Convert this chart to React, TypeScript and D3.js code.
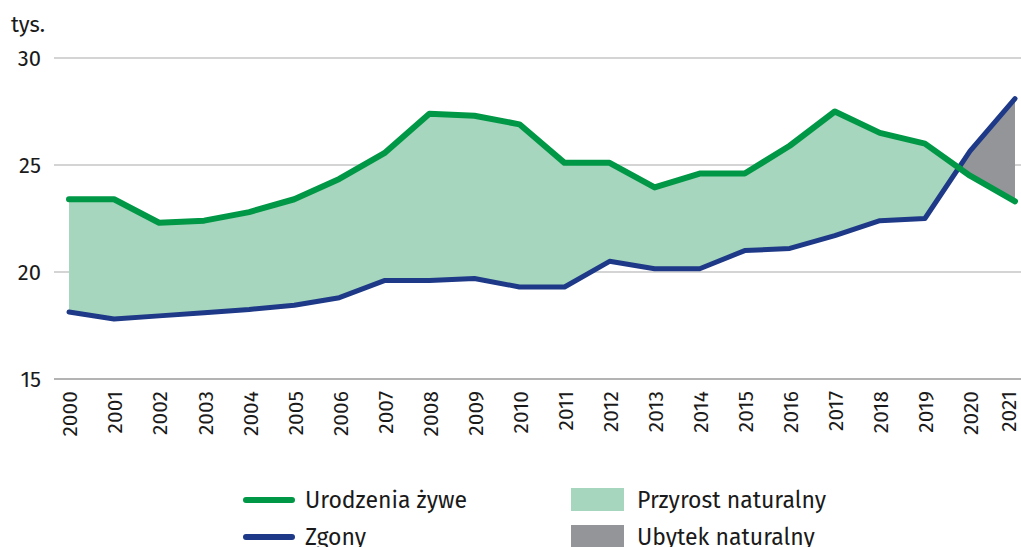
import React, { useEffect, useRef } from 'react';
import * as d3 from 'd3';

const years = [
  '2000', '2001', '2002', '2003', '2004', '2005', '2006', '2007', '2008', '2009', '2010',
  '2011', '2012', '2013', '2014', '2015', '2016', '2017', '2018', '2019', '2020', '2021',
];
// thousands
const births = [
  23.4, 23.4, 22.3, 22.4, 22.8, 23.4, 24.35, 25.55, 27.4, 27.3, 26.9,
  25.1, 25.1, 23.95, 24.6, 24.6, 25.9, 27.5, 26.5, 26.0, 24.5, 23.3,
];
const deaths = [
  18.13, 17.8, 17.95, 18.1, 18.25, 18.45, 18.8, 19.6, 19.6, 19.7, 19.3,
  19.3, 20.5, 20.15, 20.15, 21.0, 21.1, 21.7, 22.4, 22.5, 25.65, 28.1,
];
const yTicks = [15, 20, 25, 30];

const W = 1021;
const H = 547;
const FONT = '"Fira Sans", "Noto Sans", sans-serif';
const GREEN = '#009846';
const BLUE = '#1d3987';
const FILL_POS = '#a6d6bd';
const FILL_NEG = '#939598';

const App: React.FC = () => {
  const svgRef = useRef<SVGSVGElement | null>(null);

  useEffect(() => {
    if (!svgRef.current) return;
    const svg = d3.select(svgRef.current);
    svg.selectAll('*').remove();

    const x = d3.scalePoint<string>().domain(years).range([69, 1015]);
    const y = d3.scaleLinear().domain([15, 30]).range([379, 58]);
    const gridLeft = 54;
    const gridRight = W;

    const rows = years.map((yr, i) => ({ yr, b: births[i], d: deaths[i] }));
    const xs = (r: { yr: string }) => x(r.yr) as number;

    // gridlines
    svg.append('g')
      .selectAll('line')
      .data(yTicks)
      .enter()
      .append('line')
      .attr('x1', gridLeft)
      .attr('x2', gridRight)
      .attr('y1', d => y(d))
      .attr('y2', d => y(d))
      .attr('stroke', d => (d === 15 ? '#9a9a9a' : '#c6c6c6'))
      .attr('stroke-width', 1.5);

    // y tick labels
    svg.append('g')
      .selectAll('text')
      .data(yTicks)
      .enter()
      .append('text')
      .attr('x', 41)
      .attr('y', d => y(d))
      .attr('dy', '0.35em')
      .attr('text-anchor', 'end')
      .attr('font-family', FONT)
      .attr('font-size', 22)
      .attr('fill', '#1a1a1a')
      .text(d => d);

    svg.append('text')
      .attr('x', 11)
      .attr('y', 32)
      .attr('font-family', FONT)
      .attr('font-size', 22)
      .attr('fill', '#1a1a1a')
      .text('tys.');

    // difference areas via clip paths
    const defs = svg.append('defs');
    defs.append('clipPath').attr('id', 'clip-above-deaths')
      .append('path')
      .datum(rows)
      .attr('d', d3.area<any>().x(xs).y0(0).y1(r => y(r.d)));
    defs.append('clipPath').attr('id', 'clip-below-deaths')
      .append('path')
      .datum(rows)
      .attr('d', d3.area<any>().x(xs).y0(H).y1(r => y(r.d)));

    svg.append('path')
      .datum(rows)
      .attr('clip-path', 'url(#clip-above-deaths)')
      .attr('fill', FILL_POS)
      .attr('d', d3.area<any>().x(xs).y0(H).y1(r => y(r.b)));
    svg.append('path')
      .datum(rows)
      .attr('clip-path', 'url(#clip-below-deaths)')
      .attr('fill', FILL_NEG)
      .attr('d', d3.area<any>().x(xs).y0(0).y1(r => y(r.b)));

    // lines
    const lineB = d3.line<any>().x(xs).y(r => y(r.b));
    const lineD = d3.line<any>().x(xs).y(r => y(r.d));
    svg.append('path').datum(rows)
      .attr('d', lineD)
      .attr('fill', 'none')
      .attr('stroke', BLUE)
      .attr('stroke-width', 5)
      .attr('stroke-linejoin', 'round')
      .attr('stroke-linecap', 'round');
    svg.append('path').datum(rows)
      .attr('d', lineB)
      .attr('fill', 'none')
      .attr('stroke', GREEN)
      .attr('stroke-width', 6)
      .attr('stroke-linejoin', 'round')
      .attr('stroke-linecap', 'round');

    // x labels, rotated (last one nudged in so it stays inside the frame)
    svg.append('g')
      .selectAll('text')
      .data(years)
      .enter()
      .append('text')
      .attr('transform', d => `translate(${Math.min((x(d) as number) + 1, 1009)},391) rotate(-90)`)
      .attr('text-anchor', 'end')
      .attr('dy', '0.35em')
      .attr('font-family', FONT)
      .attr('font-size', 21)
      .attr('fill', '#1a1a1a')
      .text(d => d);

    // legend
    const leg = svg.append('g').attr('font-family', FONT).attr('font-size', 23).attr('fill', '#1a1a1a');
    const lineItems = [
      { label: 'Urodzenia żywe', color: GREEN, yy: 500 },
      { label: 'Zgony', color: BLUE, yy: 537 },
    ];
    lineItems.forEach(it => {
      leg.append('line')
        .attr('x1', 246).attr('x2', 292)
        .attr('y1', it.yy).attr('y2', it.yy)
        .attr('stroke', it.color)
        .attr('stroke-width', 6)
        .attr('stroke-linecap', 'round');
      leg.append('text')
        .attr('x', 305).attr('y', it.yy + 8)
        .text(it.label);
    });
    const boxItems = [
      { label: 'Przyrost naturalny', color: FILL_POS, yy: 488 },
      { label: 'Ubytek naturalny', color: FILL_NEG, yy: 525 },
    ];
    boxItems.forEach(it => {
      leg.append('rect')
        .attr('x', 571).attr('y', it.yy)
        .attr('width', 53).attr('height', 23)
        .attr('fill', it.color);
      leg.append('text')
        .attr('x', 637).attr('y', it.yy + 20)
        .text(it.label);
    });
  }, []);

  return (
    <div style={{ position: 'absolute', left: 0, top: 0 }}>
      <svg ref={svgRef} width={W} height={H} style={{ display: 'block', background: '#fff' }} />
    </div>
  );
};

export default App;
